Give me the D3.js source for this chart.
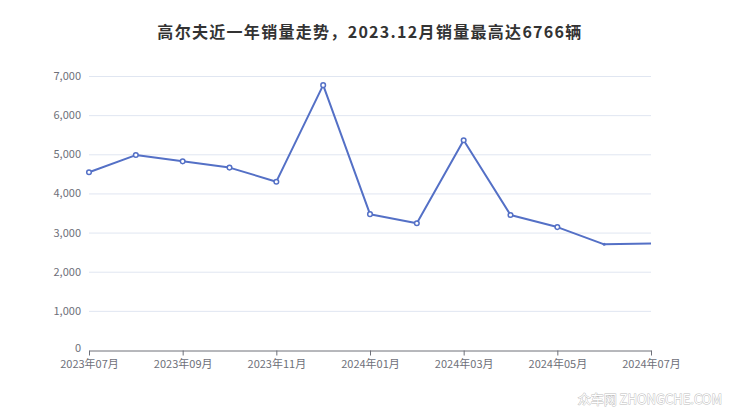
<!DOCTYPE html>
<html>
<head>
<meta charset="utf-8">
<script src="https://cdn.jsdelivr.net/npm/d3@7/dist/d3.min.js"></script>
<style>
  html, body { margin: 0; padding: 0; background: #fff; }
  svg { display: block; }
</style>
</head>
<body>
<svg id="chart" width="740" height="417"></svg>
<script>
const titleText = "高尔夫近一年销量走势，2023.12月销量最高达6766辆";
const months = ["2023-07","2023-08","2023-09","2023-10","2023-11","2023-12","2024-01","2024-02","2024-03","2024-04","2024-05","2024-06","2024-07"];
const sales = [4540, 4980, 4820, 4660, 4300, 6766, 3470, 3240, 5360, 3450, 3140, 2700, 2720];
const yTicks = [0, 1000, 2000, 3000, 4000, 5000, 6000, 7000];
const xTickLabels = ["2023年07月","2023年09月","2023年11月","2024年01月","2024年03月","2024年05月","2024年07月"];

const svg = d3.select("#chart");
const W = 740, H = 417;
const m = { left: 89, right: 89, top: 76, bottom: 67 };
const font = "'Noto Sans CJK SC', 'Noto Sans', sans-serif";
const lineColor = "#5470c6";

const x = d3.scalePoint().domain(months).range([m.left, W - m.right]);
const y = d3.scaleLinear().domain([0, 7000]).range([H - m.bottom, m.top]);

// title
svg.append("text")
  .attr("x", W / 2).attr("y", 38)
  .attr("text-anchor", "middle")
  .attr("font-family", font)
  .attr("font-size", 16).attr("font-weight", "bold")
  .attr("letter-spacing", 1.3)
  .attr("fill", "#333")
  .text(titleText);

// grid lines
svg.append("g").selectAll("line").data(yTicks.filter(d => d > 0)).join("line")
  .attr("x1", m.left).attr("x2", W - m.right)
  .attr("y1", d => y(d) + 0.5).attr("y2", d => y(d) + 0.5)
  .attr("stroke", "#e0e6f1").attr("stroke-width", 1);

// y axis labels
const yAxis = d3.axisLeft(y).tickValues(yTicks).tickSize(0).tickPadding(8).tickFormat(d3.format(","));
const gy = svg.append("g").attr("transform", `translate(${m.left},0)`).call(yAxis);
gy.select(".domain").remove();
gy.selectAll("text").attr("font-family", font).attr("font-size", 11).attr("fill", "#6e7079");
gy.selectAll(".tick").filter(d => d === 0).select("text").attr("dy", "0.1em");

// x axis
const tickMonths = months.filter((d, i) => i % 2 === 0);
const xAxis = d3.axisBottom(x).tickValues(tickMonths).tickSize(5).tickSizeOuter(0).tickPadding(5)
  .tickFormat((d, i) => xTickLabels[i]);
const gx = svg.append("g").attr("transform", `translate(0,${y(0) + 0.5})`).call(xAxis);
gx.select(".domain").attr("stroke", "#6e7079");
gx.selectAll(".tick line").attr("stroke", "#6e7079");
gx.selectAll("text").attr("font-family", font).attr("font-size", 11).attr("fill", "#6e7079");

// line
const line = d3.line().x((d, i) => x(months[i])).y(d => y(d));
svg.append("path").datum(sales)
  .attr("d", line)
  .attr("fill", "none")
  .attr("stroke", lineColor)
  .attr("stroke-width", 2)
  .attr("stroke-linejoin", "round");

// markers (last two rendered without hollow symbol, as in reference)
svg.append("g").selectAll("circle").data(sales.slice(0, 11)).join("circle")
  .attr("cx", (d, i) => x(months[i]))
  .attr("cy", d => y(d))
  .attr("r", 2.3)
  .attr("fill", "#fff")
  .attr("stroke", lineColor)
  .attr("stroke-width", 1.5);
svg.append("circle")
  .attr("cx", x(months[11])).attr("cy", y(sales[11]))
  .attr("r", 1.5).attr("fill", lineColor);

// watermark
svg.append("text")
  .attr("x", 722).attr("y", 404)
  .attr("text-anchor", "end")
  .attr("font-family", font)
  .attr("font-size", 13)
  .attr("fill", "#ffffff")
  .attr("stroke", "#bdbdbd")
  .attr("stroke-width", 0.9)
  .attr("paint-order", "stroke")
  .text("众车网 ZHONGCHE.COM");
</script>
</body>
</html>
